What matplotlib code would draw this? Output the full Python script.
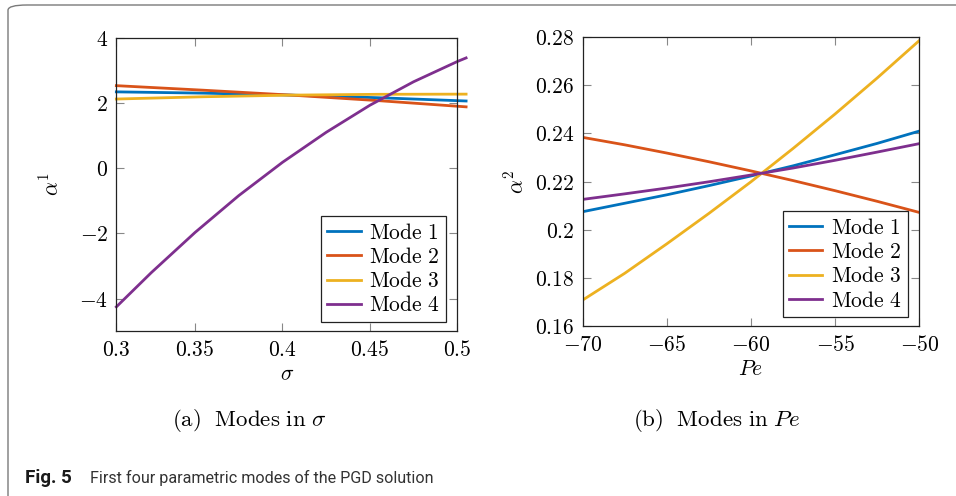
import numpy as np
import matplotlib
matplotlib.use("Agg")
import matplotlib.pyplot as plt
from matplotlib.patches import FancyBboxPatch

plt.rcParams['mathtext.fontset'] = 'cm'

# (a) modes in sigma
sig_short = [0.305, 0.355, 0.405, 0.455, 0.505]
a1_mode1 = [2.34, 2.30, 2.24, 2.16, 2.06]
a1_mode2 = [2.53, 2.39, 2.24, 2.07, 1.88]
a1_mode3 = [2.12, 2.19, 2.24, 2.265, 2.27]
sig_long = [0.305, 0.325, 0.35, 0.375, 0.40, 0.425, 0.45, 0.475, 0.50, 0.505]
a1_mode4 = [-4.25, -3.20, -1.97, -0.84, 0.18, 1.10, 1.93, 2.65, 3.27, 3.38]

sig_ticks = [0.305, 0.35, 0.40, 0.45, 0.50]
sig_labels = ['0.3', '0.35', '0.4', '0.45', '0.5']
a1_ticks = [-4, -2, 0, 2, 4]

# (b) modes in Pe
pe = [-70, -67.5, -65, -62.5, -60, -57.5, -55, -52.5, -50]
a2_mode1 = [0.2075, 0.2110, 0.2145, 0.2183, 0.2223, 0.2265, 0.2311, 0.2358, 0.2409]
a2_mode2 = [0.2383, 0.2352, 0.2318, 0.2282, 0.2244, 0.2204, 0.2162, 0.2118, 0.2072]
a2_mode3 = [0.1709, 0.1820, 0.1942, 0.2068, 0.2199, 0.2337, 0.2480, 0.2629, 0.2784]
a2_mode4 = [0.2126, 0.2149, 0.2173, 0.2199, 0.2227, 0.2256, 0.2288, 0.2322, 0.2357]

pe_ticks = [-70, -65, -60, -55, -50]
a2_ticks = [0.16, 0.18, 0.20, 0.22, 0.24, 0.26, 0.28]
a2_labels = ['0.16', '0.18', '0.2', '0.22', '0.24', '0.26', '0.28']

colors = ['#0072BD', '#D95319', '#EDB120', '#7E2F8E']
names = [r'$\mathrm{Mode\ 1}$', r'$\mathrm{Mode\ 2}$', r'$\mathrm{Mode\ 3}$', r'$\mathrm{Mode\ 4}$']

FS = 15.5
LW = 2.0


def mtext(s):
	return '$' + s + '$'


def style(ax):
	for sp in ax.spines.values():
		sp.set_color('#222222')
		sp.set_linewidth(0.9)
	ax.tick_params(direction='in', length=6, width=0.8, color='#888888',
		top=True, right=True, labelsize=FS, pad=6)


def legend(ax, x):
	leg = ax.legend(loc='lower right', bbox_to_anchor=(x, 0.032), fontsize=FS,
		frameon=True, fancybox=False, edgecolor='#222222', framealpha=1,
		handlelength=1.55, handletextpad=0.4, labelspacing=0.2, borderpad=0.3,
		borderaxespad=0)
	leg.get_frame().set_linewidth(0.9)


fig = plt.figure(figsize=(9.56, 4.96), dpi=100)

border = FancyBboxPatch((8 / 956, -20 / 496), 1.2, (496 - 5 + 20) / 496,
	boxstyle='round,pad=0,rounding_size=0.02', transform=fig.transFigure,
	fill=False, edgecolor='#7a7a7a', linewidth=1.0, mutation_aspect=496 / 956)
fig.patches.append(border)

ax1 = fig.add_axes([0.1217, 0.332, 0.3567, 0.592])
ax1.plot(sig_short, a1_mode1, color=colors[0], lw=LW, label=names[0], clip_on=False)
ax1.plot(sig_short, a1_mode2, color=colors[1], lw=LW, label=names[1], clip_on=False)
ax1.plot(sig_short, a1_mode3, color=colors[2], lw=LW, label=names[2], clip_on=False)
ax1.plot(sig_long, a1_mode4, color=colors[3], lw=LW, label=names[3], clip_on=False)
ax1.set_xlim(0.305, 0.5)
ax1.set_ylim(-5, 4)
ax1.set_xticks(sig_ticks)
ax1.set_xticklabels([mtext(s) for s in sig_labels])
ax1.set_yticks(a1_ticks)
ax1.set_yticklabels([mtext(str(v)) for v in a1_ticks])
style(ax1)
ax1.set_xlabel(r'$\sigma$', fontsize=FS, labelpad=3)
ax1.set_ylabel(r'$\alpha^1$', fontsize=FS, labelpad=12)
legend(ax1, 0.967)

ax2 = fig.add_axes([0.6095, 0.342, 0.3521, 0.584])
ax2.plot(pe, a2_mode1, color=colors[0], lw=LW, label=names[0])
ax2.plot(pe, a2_mode2, color=colors[1], lw=LW, label=names[1])
ax2.plot(pe, a2_mode3, color=colors[2], lw=LW, label=names[2])
ax2.plot(pe, a2_mode4, color=colors[3], lw=LW, label=names[3])
ax2.set_xlim(-70, -50)
ax2.set_ylim(0.16, 0.28)
ax2.set_xticks(pe_ticks)
ax2.set_xticklabels([mtext(str(v)) for v in pe_ticks])
ax2.set_yticks(a2_ticks)
ax2.set_yticklabels([mtext(s) for s in a2_labels])
style(ax2)
ax2.set_xlabel(r'$Pe$', fontsize=FS, labelpad=3)
ax2.set_ylabel(r'$\alpha^2$', fontsize=FS, labelpad=5)
legend(ax2, 0.966)

fig.text(249 / 956, 1 - 421 / 496, r'$\mathrm{(a)\ \ Modes\ in\ }\sigma$',
	fontsize=16.5, ha='center', va='center')
fig.text(717 / 956, 1 - 421 / 496, r'$\mathrm{(b)\ \ Modes\ in\ }Pe$',
	fontsize=16.5, ha='center', va='center')

fig.text(25 / 956, 1 - 478 / 496, 'Fig. 5', family='Roboto', weight='bold',
	fontsize=13.5, ha='left', va='center', color='#1a1a1a')
fig.text(90 / 956, 1 - 478 / 496, 'First four parametric modes of the PGD solution',
	family='Roboto', fontsize=11.6, ha='left', va='center', color='#333333')

fig.savefig('out.png', dpi=100)
